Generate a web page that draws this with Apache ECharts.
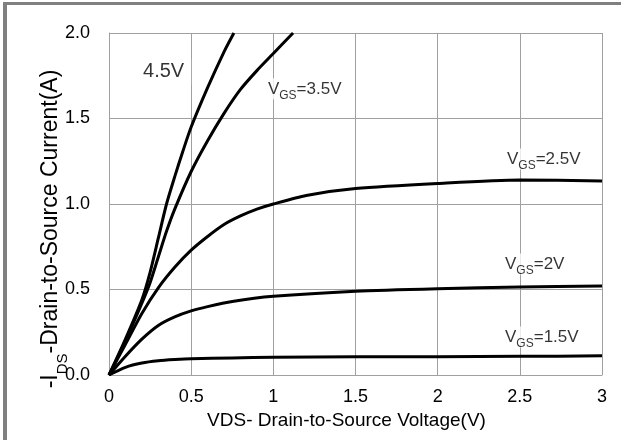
<!DOCTYPE html>
<html><head><meta charset="utf-8">
<script src="https://cdn.jsdelivr.net/npm/echarts@6/dist/echarts.min.js"></script>
<style>
html,body{margin:0;padding:0;background:#fff;}
#wrap{position:relative;width:621px;height:440px;overflow:hidden;background:#fff;}
#chart{position:absolute;left:0;top:0;width:621px;height:440px;}
.bl{position:absolute;left:3px;top:2px;width:4px;height:438px;background:#808080;}
.bt{position:absolute;left:3px;top:2px;width:618px;height:3px;background:#808080;}
</style></head><body>
<div id="wrap"><div id="chart"></div><div class="bl"></div><div class="bt"></div></div>
<script>
// ---- data ----
const vds45 = [0, 0.1, 0.2, 0.25, 0.3, 0.35, 0.4, 0.45, 0.5, 0.6, 0.7, 0.76];
const ids45 = [0, 0.21, 0.44, 0.6, 0.8, 1.0, 1.16, 1.31, 1.45, 1.68, 1.89, 2.0];

const vds35 = [0, 0.1, 0.2, 0.25, 0.3, 0.35, 0.4, 0.5, 0.6, 0.7, 0.8, 0.9, 1.0, 1.12];
const ids35 = [0, 0.2, 0.42, 0.54, 0.69, 0.84, 0.97, 1.19, 1.37, 1.53, 1.67, 1.78, 1.88, 2.0];

const vds25 = [0, 0.1, 0.2, 0.3, 0.4, 0.5, 0.6, 0.7, 0.8, 0.9, 1.0, 1.2, 1.5, 2.0, 2.5, 3.0];
const ids25 = [0, 0.18, 0.36, 0.51, 0.63, 0.73, 0.81, 0.88, 0.93, 0.97, 1.0, 1.05, 1.09, 1.12, 1.14, 1.135];

const vds20 = [0, 0.1, 0.2, 0.3, 0.4, 0.5, 0.6, 0.75, 1.0, 1.5, 2.0, 2.5, 3.0];
const ids20 = [0, 0.11, 0.21, 0.29, 0.34, 0.375, 0.4, 0.43, 0.46, 0.49, 0.505, 0.515, 0.52];

const vds15 = [0, 0.1, 0.2, 0.3, 0.4, 0.5, 0.75, 1.0, 1.5, 2.0, 2.5, 3.0];
const ids15 = [0, 0.045, 0.07, 0.083, 0.09, 0.095, 0.1, 0.104, 0.106, 0.107, 0.109, 0.112];

const curveNames = ['4.5V', '3.5V', '2.5V', '2V', '1.5V'];
const curveLabelText = ['4.5V', '{m|V}{s|GS}{m|=3.5V}', '{m|V}{s|GS}{m|=2.5V}', '{m|V}{s|GS}{m|=2V}', '{m|V}{s|GS}{m|=1.5V}'];
const labelVds = [0.189, 0.949, 2.404, 2.392, 2.392];
const labelIds = [1.772, 1.673, 1.263, 0.649, 0.222];

const xAxisTitle = 'VDS- Drain-to-Source Voltage(V)';
const yAxisTitle = '{m|-I}{s|DS}{m|-Drain-to-Source Current(A)}';

// ---- chart ----
const FONT = '"Liberation Sans", Arial, sans-serif';
const pairs = (xs, ys) => xs.map((x, i) => [x, ys[i]]);
const curves = [[vds45, ids45], [vds35, ids35], [vds25, ids25], [vds20, ids20], [vds15, ids15]];

const chart = echarts.init(document.getElementById('chart'), null, {renderer: 'canvas'});
const lineSeries = curves.map((c, i) => ({
  name: curveNames[i],
  type: 'line',
  data: pairs(c[0], c[1]),
  showSymbol: false,
  smooth: 0.25,
  lineStyle: {color: '#000', width: 3},
  itemStyle: {color: '#000'},
  z: 3,
  silent: true
}));

const labelSeries = {
  type: 'scatter',
  symbolSize: 0.1,
  itemStyle: {color: 'transparent'},
  silent: true,
  z: 6,
  data: labelVds.map((x, i) => ({
    value: [x, labelIds[i]],
    label: i === 0 ? {
      formatter: curveLabelText[i],
      fontSize: 20,
      padding: [3, 7, 3, 3]
    } : {
      formatter: curveLabelText[i],
      padding: [2, 6, 2, 3]
    }
  })),
  label: {
    show: true,
    position: [0, 0],
    align: 'left',
    verticalAlign: 'middle',
    backgroundColor: '#fff',
    color: '#000',
    fontFamily: FONT,
    fontSize: 17,
    rich: {
      m: {fontSize: 17, lineHeight: 17, fontFamily: FONT, color: '#000', verticalAlign: 'middle'},
      s: {fontSize: 12, lineHeight: 12, fontFamily: FONT, color: '#000', verticalAlign: 'middle', padding: [14, 0, 0, 0]}
    }
  }
};

chart.setOption({
  animation: false,
  backgroundColor: 'transparent',
  grid: {left: 109, right: 19, top: 33, bottom: 65, containLabel: false},
  xAxis: {
    type: 'value', min: 0, max: 3, interval: 0.5,
    name: xAxisTitle, nameLocation: 'middle', nameGap: 36, nameMoveOverlap: false,
    nameTextStyle: {fontFamily: FONT, fontSize: 19, color: '#000', padding: [0, 18, 0, 0]},
    axisLine: {show: true, lineStyle: {color: '#a0a0a0', width: 1}},
    axisTick: {show: false},
    axisLabel: {fontFamily: FONT, fontSize: 18, color: '#000', margin: 13},
    splitLine: {show: true, lineStyle: {color: '#a0a0a0', width: 1}}
  },
  yAxis: {
    type: 'value', min: 0, max: 2, interval: 0.5,
    name: yAxisTitle, nameLocation: 'middle', nameGap: 47, nameMoveOverlap: false,
    nameTextStyle: {
      fontFamily: FONT, fontSize: 23, color: '#000', padding: [0, 50, 0, 0],
      rich: {
        m: {fontSize: 23, lineHeight: 23, fontFamily: FONT, color: '#000', verticalAlign: 'middle'},
        s: {fontSize: 15, lineHeight: 15, fontFamily: FONT, color: '#000', verticalAlign: 'middle', padding: [25, 0, 0, 0]}
      }
    },
    axisLine: {show: true, lineStyle: {color: '#a0a0a0', width: 1}},
    axisTick: {show: false},
    axisLabel: {fontFamily: FONT, fontSize: 18, color: '#000', margin: 19, formatter: v => v.toFixed(1)},
    splitLine: {show: true, lineStyle: {color: '#a0a0a0', width: 1}}
  },
  series: lineSeries.concat([labelSeries])
});
</script>
</body></html>
